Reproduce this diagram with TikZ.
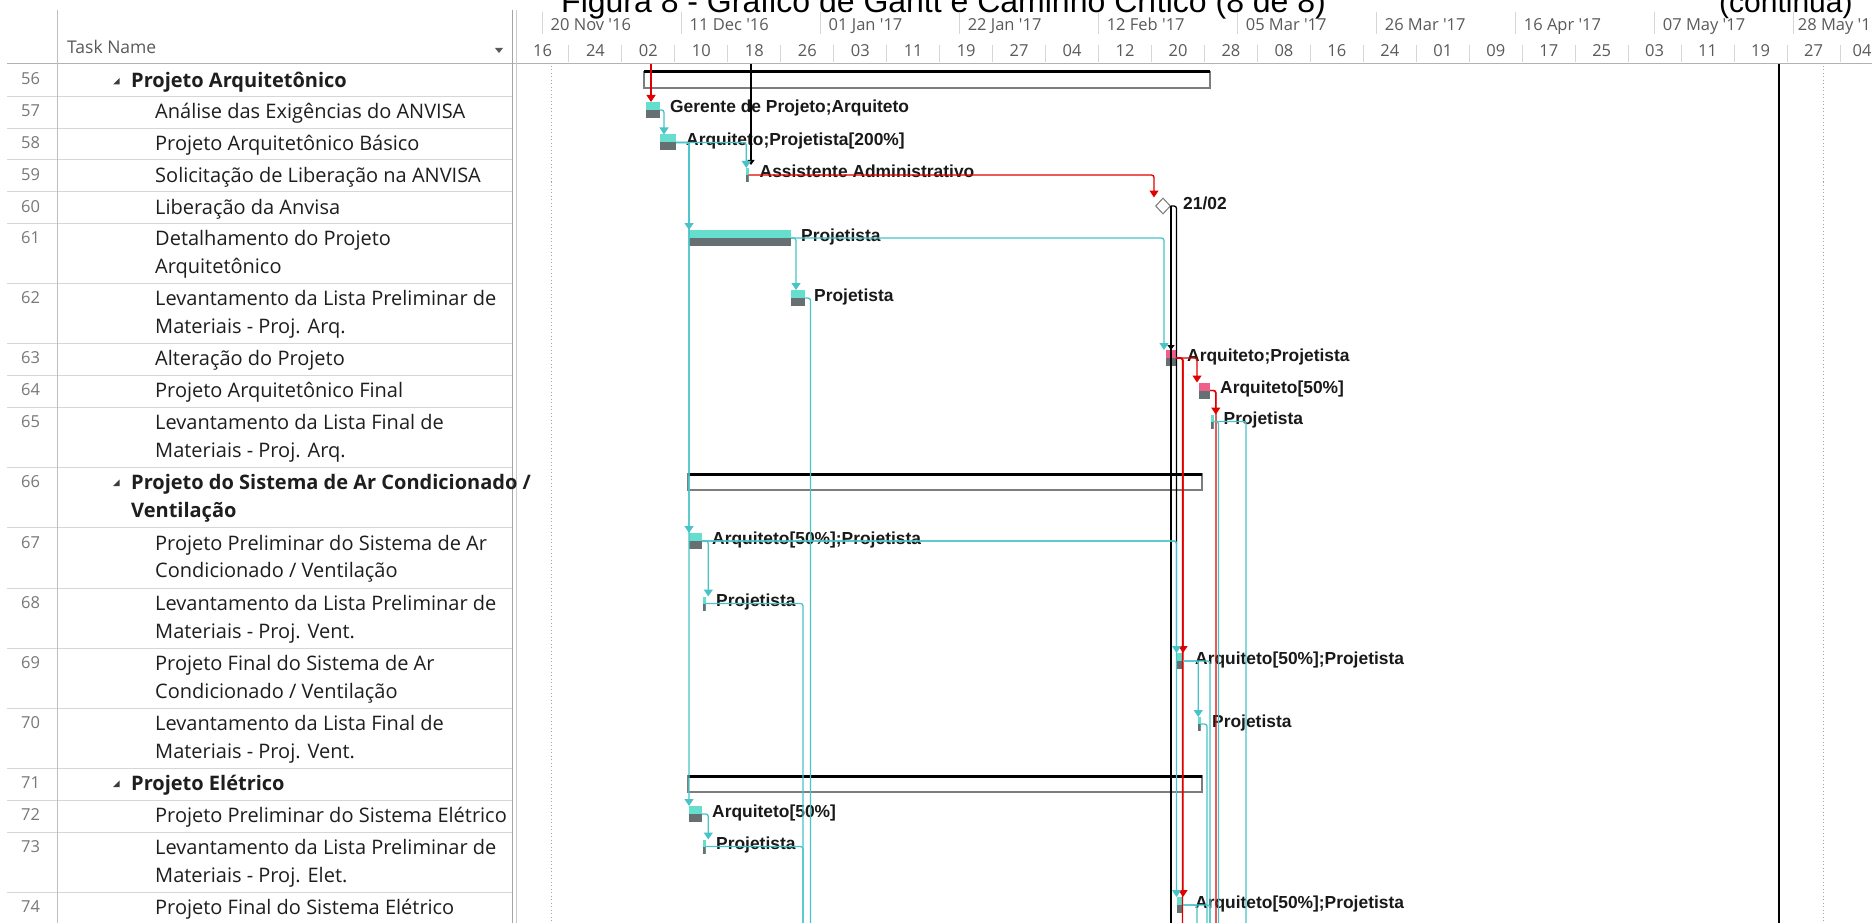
\documentclass[tikz,border=0pt]{standalone}
\usepackage{fontspec}
\usetikzlibrary{arrows.meta,shapes.geometric,calc}
\newfontfamily\tblf{Open Sans}
\newfontfamily\lblf{Liberation Sans}
\definecolor{barteal}{RGB}{102,222,205}
\definecolor{bargray}{RGB}{102,112,115}
\definecolor{barpink}{RGB}{240,95,140}
\definecolor{lteal}{RGB}{72,196,200}
\definecolor{lred}{RGB}{225,0,0}
\definecolor{sumgray}{RGB}{125,125,125}
\definecolor{gridc}{RGB}{214,214,214}
\definecolor{colc}{RGB}{190,190,190}
\definecolor{idcol}{RGB}{120,120,120}
\definecolor{tcol}{RGB}{30,30,30}
\definecolor{hcol}{RGB}{90,90,90}
\definecolor{diagray}{RGB}{120,120,120}
\definecolor{tricol}{RGB}{60,60,60}
\begin{document}
\begin{tikzpicture}[x=1pt,y=-1pt,
  idn/.style={anchor=base west, inner sep=0pt, font=\tblf\fontsize{16.5}{20}\selectfont, text=idcol},
  tname/.style={anchor=base west, inner sep=0pt, font=\tblf\fontsize{20}{24}\selectfont, text=tcol},
  sname/.style={anchor=base west, inner sep=0pt, font=\tblf\bfseries\fontsize{20}{24}\selectfont, text=tcol},
  hdate/.style={anchor=base west, inner sep=0pt, font=\tblf\fontsize{16.5}{20}\selectfont, text=hcol},
  hnum/.style={anchor=base, inner sep=0pt, font=\tblf\fontsize{16.5}{20}\selectfont, text=hcol},
  glabel/.style={anchor=base west, inner sep=0pt, font=\lblf\bfseries\fontsize{17.4}{20}\selectfont, text=black!90},
  taskbar/.style={rectangle, anchor=north west, inner sep=0pt, outer sep=0pt, minimum height=16pt, fill=barteal,
    path picture={\fill[bargray] (path picture bounding box.west) rectangle (path picture bounding box.south east);}},
  critbar/.style={taskbar, fill=barpink},
  tickbar/.style={taskbar, minimum width=2.5pt, minimum height=14pt},
  sumbar/.style={rectangle, anchor=north west, inner sep=0pt, outer sep=0pt, minimum height=16pt, draw=sumgray, line width=2.5pt},
  sumtop/.style={line width=3pt, draw=black},
  msdiamond/.style={diamond, draw=diagray, fill=white, line width=1pt, minimum width=15pt, minimum height=16pt, inner sep=0pt},
  tlink/.style={draw=lteal, line width=1.3pt, rounded corners=2.5pt},
  rlink/.style={draw=lred, line width=1.3pt, rounded corners=2.5pt},
  klink/.style={draw=black, line width=1.3pt, rounded corners=2.5pt},
  ahead/.style={-{Triangle[width=9pt,length=7pt]}},
  gridl/.style={draw=gridc, line width=1pt},
  dotl/.style={draw=gray!70, line width=1pt, dash pattern=on 1pt off 2.5pt}
]
\useasboundingbox (0,0) rectangle (1872,923);
\clip (0,0) rectangle (1872,923);
\fill[white] (0,0) rectangle (1872,923);

% ---- title
\node[anchor=base west, inner sep=0pt, font=\lblf\fontsize{32}{36}\selectfont] (title) at (561,12.5) {Figura 8 - Gráfico de Gantt e Caminho Crítico (8 de 8)};
\node[anchor=base west, inner sep=0pt, font=\lblf\fontsize{30}{34}\selectfont] (cont) at (1719,12.5) {(continua)};

% ---- table grid
\foreach \yy in {96.5,128.5,160,191.5,223,283,343,375,407,467,527.5,588,648,708,768,800,832,892}
  \draw[gridl] (7,\yy) -- (512,\yy);
\draw[draw=gray!60, line width=1pt] (7,63.5) -- (1872,63.5);
\draw[draw=colc, line width=1pt] (57,10) -- (57,923);
\draw[draw=gray!70, line width=1pt] (512,10) -- (512,923);
\draw[draw=gray!40, line width=1pt] (516,10) -- (516,923);

% ---- table header
\node[anchor=base west, inner sep=0pt, font=\tblf\fontsize{17.5}{20}\selectfont, text=hcol] (taskname) at (67,54) {Task Name};
\fill[hcol] (495,48) -- (503,48) -- (499,53) -- cycle;

% ---- timescale
\foreach \d in {0,21,...,189}
  \draw[gridl] ({542.5+6.62*\d},12) -- ({542.5+6.62*\d},34);
\foreach \d in {4,12,...,196}
  \draw[gridl] ({542.5+6.62*\d},45) -- ({542.5+6.62*\d},62);
\foreach \d/\t [count=\i] in {0/20 Nov '16,21/11 Dec '16,42/01 Jan '17,63/22 Jan '17,84/12 Feb '17,105/05 Mar '17,126/26 Mar '17,147/16 Apr '17,168/07 May '17}
  \node[hdate] (top\i) at ({550.5+6.62*\d},30.5) {\t};
\node[hdate] (top10) at ({546.5+6.62*189},30.5) {28 May '1};
\foreach \d/\t [count=\i] in {-4/16,4/24,12/02,20/10,28/18,36/26,44/03,52/11,60/19,68/27,76/04,84/12,92/20,100/28,108/08,116/16,124/24,132/01,140/09,148/17,156/25,164/03,172/11,180/19,188/27}
  \node[hnum] (bot\i) at ({542.5+6.62*(\d+4)},56.5) {\t};
\node[hnum] (bot26) at (1862,56.5) {04};

% ---- vertical markers
\draw[dotl] (551,66) -- (551,923);
\draw[dotl] (1823,66) -- (1823,923);
\draw[draw=black, line width=1.5pt] (1779,64) -- (1779,923);

% ---- IDs
\foreach \n/\t in {56/64,57/96.5,58/128.5,59/160,60/191.5,61/223,62/283,63/343,64/375,65/407,66/467,67/527.5,68/588,69/648,70/708,71/768,72/800,73/832,74/892}
  \node[idn] (id\n) at (21,{\t+20.5}) {\n};

% ---- task names
\fill[tricol] (113,84.5) -- (119.5,84.5) -- (119.5,78) -- cycle;
\node[sname] (t56) at (131,87.5) {Projeto Arquitetônico};
\node[tname] (t57) at (155,119) {Análise das Exigências do ANVISA};
\node[tname] (t58) at (155,151) {Projeto Arquitetônico Básico};
\node[tname] (t59) at (155,182.5) {Solicitação de Liberação na ANVISA};
\node[tname] (t60) at (155,214) {Liberação da Anvisa};
\node[tname] (t61) at (155,245.5) {Detalhamento do Projeto};
\node[tname] (t61b) at (155,273) {Arquitetônico};
\node[tname] (t62) at (155,305.5) {Levantamento da Lista Preliminar de};
\node[tname] (t62b) at (155,333) {Materiais - Proj. Arq.};
\node[tname] (t63) at (155,365.5) {Alteração do Projeto};
\node[tname] (t64) at (155,397.5) {Projeto Arquitetônico Final};
\node[tname] (t65) at (155,429.5) {Levantamento da Lista Final de};
\node[tname] (t65b) at (155,457) {Materiais - Proj. Arq.};
\fill[tricol] (113,486) -- (119.5,486) -- (119.5,479.5) -- cycle;
\node[sname] (t66) at (131,489.5) {Projeto do Sistema de Ar Condicionado /};
\node[sname] (t66b) at (131,517) {Ventilação};
\node[tname] (t67) at (155,550) {Projeto Preliminar do Sistema de Ar};
\node[tname] (t67b) at (155,577.5) {Condicionado / Ventilação};
\node[tname] (t68) at (155,610.5) {Levantamento da Lista Preliminar de};
\node[tname] (t68b) at (155,638) {Materiais - Proj. Vent.};
\node[tname] (t69) at (155,670.5) {Projeto Final do Sistema de Ar};
\node[tname] (t69b) at (155,698) {Condicionado / Ventilação};
\node[tname] (t70) at (155,730.5) {Levantamento da Lista Final de};
\node[tname] (t70b) at (155,758) {Materiais - Proj. Vent.};
\fill[tricol] (113,787) -- (119.5,787) -- (119.5,780.5) -- cycle;
\node[sname] (t71) at (131,790.5) {Projeto Elétrico};
\node[tname] (t72) at (155,822.5) {Projeto Preliminar do Sistema Elétrico};
\node[tname] (t73) at (155,854.5) {Levantamento da Lista Preliminar de};
\node[tname] (t73b) at (155,882) {Materiais - Proj. Elet.};
\node[tname] (t74) at (155,914.5) {Projeto Final do Sistema Elétrico};

% ---- summary bars
\node[sumbar, minimum width=566pt] (s56) at (644,72) {};
\draw[sumtop] (s56.north west) -- (s56.north east);
\node[sumbar, minimum width=514pt] (s66) at (688,474) {};
\draw[sumtop] (s66.north west) -- (s66.north east);
\node[sumbar, minimum width=514pt] (s71) at (688,776) {};
\draw[sumtop] (s71.north west) -- (s71.north east);

% ---- task bars
\node[taskbar, minimum width=14pt] (b57) at (646,102) {};
\node[taskbar, minimum width=16pt] (b58) at (660,134.5) {};
\node[tickbar] (b59) at (746,168) {};
\node[msdiamond] (m60) at (1163,206) {};
\node[taskbar, minimum width=102pt] (b61) at (689,230) {};
\node[taskbar, minimum width=14pt] (b62) at (791,290) {};
\node[critbar, minimum width=10pt] (b63) at (1166,350) {};
\node[critbar, minimum width=11pt] (b64) at (1199,382.5) {};
\node[tickbar] (b65) at (1211,414.5) {};
\node[taskbar, minimum width=13pt] (b67) at (689,533) {};
\node[tickbar] (b68) at (703,596.5) {};
\node[taskbar, minimum width=6pt] (b69) at (1177,653) {};
\node[tickbar] (b70) at (1198,717) {};
\node[taskbar, minimum width=13pt] (b72) at (689,806) {};
\node[tickbar] (b73) at (703,839.5) {};
\node[taskbar, minimum width=6pt] (b74) at (1177,897) {};

% ---- bar labels
\node[glabel] (l57) at ($(b57.east)+(10,3)$) {Gerente de Projeto;Arquiteto};
\node[glabel] (l58) at ($(b58.east)+(10,3)$) {Arquiteto;Projetista[200\%]};
\node[glabel] (l59) at ($(b59.east)+(11,3)$) {Assistente Administrativo};
\node[glabel] (l60) at ($(m60.east)+(12,3)$) {21/02};
\node[glabel] (l61) at ($(b61.east)+(10,3)$) {Projetista};
\node[glabel] (l62) at ($(b62.east)+(9,3)$) {Projetista};
\node[glabel] (l63) at ($(b63.east)+(11,3)$) {Arquiteto;Projetista};
\node[glabel] (l64) at ($(b64.east)+(10,3)$) {Arquiteto[50\%]};
\node[glabel] (l65) at ($(b65.east)+(10,3)$) {Projetista};
\node[glabel] (l67) at ($(b67.east)+(10,3)$) {Arquiteto[50\%];Projetista};
\node[glabel] (l68) at ($(b68.east)+(10.5,3)$) {Projetista};
\node[glabel] (l69) at ($(b69.east)+(12,3)$) {Arquiteto[50\%];Projetista};
\node[glabel] (l70) at ($(b70.east)+(11.5,3)$) {Projetista};
\node[glabel] (l72) at ($(b72.east)+(10,3)$) {Arquiteto[50\%]};
\node[glabel] (l73) at ($(b73.east)+(10.5,3)$) {Projetista};
\node[glabel] (l74) at ($(b74.east)+(12,3)$) {Arquiteto[50\%];Projetista};

% ---- off-page coordinates
\coordinate (r57in) at (651,64);
\coordinate (k59in) at (751,64);
\coordinate (kA) at (1170.5,923);
\coordinate (kB) at (1176.5,543);
\coordinate (r63out) at (1182.5,923);
\coordinate (r64out) at (1216,923);
\coordinate (t62out) at (810.5,923);
\coordinate (t65a) at (1218.5,923);
\coordinate (t65b) at (1246,923);
\coordinate (t68out) at (803,923);
\coordinate (t69out) at (1210,923);
\coordinate (t70out) at (1207,923);
\coordinate (t73out) at (803,923);
\coordinate (t74a) at (1197,923);
\coordinate (t74b) at (1210,923);

% ---- links
\draw[rlink,ahead] (r57in) -- (r57in |- b57.north);
\draw[klink,-{Triangle[width=7pt,length=5pt]}] (k59in) -- ([yshift=3pt]k59in |- b59.north);
\draw[tlink,ahead] (b57.east) -| ([xshift=4pt]b58.north west);
\draw[tlink,ahead] (b58.east) -| ([xshift=-1pt]b59.north);
\draw[tlink,ahead] (b58.east) -| (b61.north west);
\draw[tlink,ahead] (b58.east) -| (b67.north west);
\draw[tlink,ahead] (b58.east) -| (b72.north west);
\draw[rlink,ahead] (b59.east) -| ([xshift=-9pt]m60.north);
\draw[tlink,ahead] (b61.east) -| ([xshift=5pt]b62.north west);
\draw[tlink,ahead] (b61.east) -| ([xshift=-2pt]b63.north west);
\draw[tlink] (b62.east) -| (t62out);
\draw[klink] (m60.east) -- (m60.east |- kA);
\draw[klink] (m60.east) -| (kB);
\draw[klink,-{Triangle[width=7pt,length=5pt]}] (m60.east) -- (m60.east |- b63.north);
\draw[rlink,ahead] (b63.east) -| ([xshift=-2pt]b64.north west);
\draw[rlink] (b63.east) -| (r63out);
\draw[rlink,ahead] (b63.east) -| ([xshift=6pt]b69.north west);
\draw[rlink,ahead] (b63.east) -| ([xshift=6pt]b74.north west);
\draw[rlink,ahead] (b64.east) -| ([xshift=3.5pt]b65.north);
\draw[rlink] (b64.east) -| (r64out);
\draw[tlink] (b65.east) -| (t65a);
\draw[tlink] (b65.east) -| (t65b);
\draw[tlink,ahead] (b67.east) -| ([xshift=4pt]b68.north);
\draw[tlink,ahead] (b67.east) -| ([xshift=-0.5pt]b69.north west);
\draw[tlink,ahead] (b67.east) -| ([xshift=-0.5pt]b74.north west);
\draw[tlink] (b68.east) -| (t68out);
\draw[tlink,ahead] (b69.east) -| ([xshift=-1pt]b70.north);
\draw[tlink] (b69.east) -| (t69out);
\draw[tlink] (b70.east) -| (t70out);
\draw[tlink,ahead] (b72.east) -| ([xshift=4pt]b73.north);
\draw[tlink] (b73.east) -| (t73out);
\draw[tlink] (b74.east) -| (t74a);
\draw[tlink] (b74.east) -| (t74b);
\end{tikzpicture}
\end{document}
